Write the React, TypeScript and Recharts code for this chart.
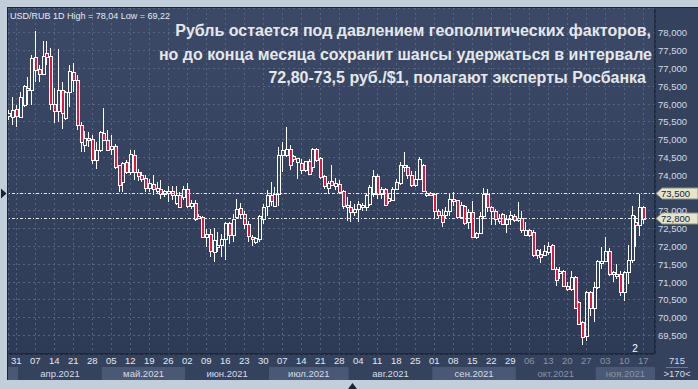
import React from "react";
import { ComposedChart, Bar, XAxis, YAxis, CartesianGrid, ReferenceLine } from "recharts";

// USD/RUB daily candles, 29.03.2021 - 17.11.2021 (one entry per weekday)
const opens = [
  75.68, 75.64, 75.85, 75.64, 75.97, 76.46, 76.39, 77.31, 76.99, 76.84, 77.43, 77.36, 75.99, 75.8, 76.41, 75.6, 76.35, 76.91, 76.69, 75.41,
  74.86, 74.99, 75.01, 74.42, 74.7, 75.19, 74.99, 74.75, 74.82, 74.28, 73.81, 74.38, 74.09, 74.58, 74.09, 74.02, 73.92, 73.64, 73.76, 73.56,
  73.62, 73.48, 73.5, 73.55, 73.23, 73.44, 73.39, 73.61, 73.15, 73.23, 72.83, 72.83, 72.28, 72.34, 71.84, 71.98, 72.05, 72.22, 72.66, 72.31,
  72.83, 73.09, 72.92, 72.64, 72.26, 72.12, 72.22, 72.78, 73.15, 73.44, 73.15, 73.47, 74.56, 74.58, 74.75, 74.53, 74.38, 74.35, 74.14, 74.39,
  74.23, 74.75, 74.49, 73.97, 73.64, 73.83, 73.7, 73.75, 73.55, 73.14, 73.12, 72.97, 73.04, 73.11, 73.11, 73.2, 73.47, 73.97, 73.47, 73.61,
  73.27, 73.32, 73.61, 73.77, 74.23, 74.23, 74.0, 73.72, 73.91, 74.28, 73.47, 73.51, 73.47, 73.01, 72.89, 72.89, 73.01, 73.34, 73.3, 72.83,
  73.15, 72.69, 72.97, 72.28, 72.38, 72.87, 73.48, 73.11, 72.99, 72.8, 72.92, 72.64, 72.78, 72.87, 72.78, 72.8, 72.33, 72.45, 72.42, 71.75,
  71.79, 71.75, 71.84, 72.05, 71.37, 71.28, 71.32, 70.9, 70.81, 71.15, 70.43, 69.87, 69.49, 70.73, 70.26, 70.85, 71.54, 71.58, 71.86, 71.23,
  71.18, 71.23, 70.71, 71.28, 71.61, 72.69, 72.59, 73.11,
];
const highs = [
  75.83, 76.21, 75.97, 76.35, 76.53, 76.77, 77.38, 78.04, 77.1, 77.76, 77.78, 77.57, 76.44, 77.55, 76.63, 76.37, 77.1, 77.16, 76.82, 75.5,
  75.24, 75.22, 75.12, 74.94, 75.24, 75.88, 75.27, 75.12, 74.89, 74.3, 74.38, 74.42, 74.7, 74.7, 74.17, 74.09, 74.0, 73.91, 74.0, 73.81,
  73.88, 73.6, 73.69, 73.69, 73.69, 73.53, 73.7, 73.77, 73.3, 73.3, 72.92, 72.87, 72.5, 72.5, 72.53, 72.4, 72.36, 72.7, 72.69, 72.9,
  73.34, 73.23, 73.01, 72.73, 72.31, 72.26, 72.88, 73.2, 73.58, 73.81, 73.67, 74.8, 74.94, 75.36, 74.85, 74.58, 74.5, 74.47, 74.4, 74.47,
  74.78, 74.76, 74.52, 74.02, 73.84, 74.28, 73.93, 73.86, 73.58, 73.39, 73.27, 73.2, 73.27, 73.23, 73.51, 73.72, 74.14, 74.05, 73.67, 73.64,
  73.48, 73.67, 73.91, 74.38, 74.66, 74.3, 74.11, 74.11, 74.52, 74.33, 73.55, 73.53, 73.5, 73.06, 73.06, 73.11, 73.48, 73.53, 73.32, 73.25,
  73.17, 73.06, 73.27, 72.4, 72.97, 73.63, 73.61, 73.15, 73.06, 72.92, 72.95, 72.89, 73.01, 72.92, 73.25, 73.01, 72.7, 72.48, 72.45, 71.92,
  71.93, 72.03, 72.12, 72.08, 71.42, 71.42, 71.35, 71.01, 71.32, 71.18, 70.48, 69.92, 70.76, 70.76, 71.0, 71.61, 71.98, 72.26, 71.95, 71.32,
  71.51, 71.32, 71.32, 72.03, 73.15, 72.85, 73.48, 73.15,
];
const lows = [
  75.55, 75.41, 75.35, 75.6, 75.92, 75.97, 75.97, 76.63, 76.63, 76.82, 77.1, 75.83, 75.46, 75.5, 75.31, 75.55, 75.92, 76.35, 75.27, 74.66,
  74.66, 74.8, 74.33, 74.19, 74.66, 74.96, 74.68, 74.56, 74.19, 73.53, 73.53, 74.05, 74.02, 73.86, 73.83, 73.81, 73.53, 73.53, 73.44, 73.48,
  73.34, 73.4, 73.25, 73.3, 73.17, 73.08, 73.3, 73.08, 73.06, 72.73, 72.78, 72.24, 71.98, 71.7, 71.56, 71.84, 71.7, 71.61, 72.08, 72.12,
  72.8, 72.78, 72.5, 72.12, 72.01, 72.08, 72.14, 72.64, 72.87, 73.14, 73.14, 73.15, 74.09, 74.52, 74.14, 74.38, 73.89, 74.05, 74.09, 74.0,
  74.09, 74.38, 73.91, 73.62, 73.48, 73.7, 73.6, 73.48, 73.04, 72.73, 72.69, 72.87, 72.69, 73.01, 73.01, 73.15, 73.4, 73.34, 73.34, 73.14,
  73.2, 73.3, 73.58, 73.72, 74.09, 73.91, 73.67, 73.67, 73.86, 73.53, 73.39, 73.44, 72.78, 72.78, 72.55, 72.8, 72.87, 73.15, 72.78, 72.78,
  72.59, 72.5, 72.23, 72.22, 72.36, 72.78, 72.97, 72.59, 72.59, 72.64, 72.61, 72.38, 72.59, 72.69, 72.69, 72.38, 72.29, 72.26, 71.7, 71.65,
  71.54, 71.73, 71.75, 71.35, 70.9, 71.09, 70.88, 70.76, 70.76, 70.24, 69.79, 69.22, 69.35, 70.06, 69.87, 70.81, 71.37, 71.56, 71.18, 71.0,
  71.09, 70.62, 70.48, 70.95, 71.54, 71.98, 72.29, 72.64,
];
const closes = [
  75.75, 75.83, 75.66, 76.21, 76.51, 76.39, 77.29, 76.96, 76.84, 77.36, 77.31, 75.99, 75.8, 76.41, 75.74, 76.35, 76.93, 76.69, 75.41, 74.94,
  75.05, 75.05, 74.42, 74.72, 75.22, 74.99, 74.72, 74.82, 74.23, 73.74, 74.35, 74.09, 74.61, 74.09, 73.97, 73.89, 73.64, 73.78, 73.62, 73.65,
  73.48, 73.56, 73.55, 73.46, 73.44, 73.11, 73.61, 73.14, 73.23, 72.78, 72.87, 72.26, 72.34, 71.87, 72.17, 72.05, 72.22, 72.66, 72.31, 72.78,
  73.06, 72.92, 72.64, 72.29, 72.2, 72.23, 72.87, 73.11, 73.44, 73.27, 73.47, 74.56, 74.72, 74.73, 74.3, 74.47, 74.49, 74.14, 74.39, 74.05,
  74.75, 74.44, 73.95, 73.69, 73.77, 73.74, 73.77, 73.53, 73.14, 73.17, 72.97, 73.04, 73.2, 73.17, 73.44, 73.67, 73.97, 73.47, 73.62, 73.17,
  73.36, 73.61, 73.81, 74.28, 74.28, 74.0, 73.74, 73.91, 74.47, 73.55, 73.51, 73.46, 73.01, 72.89, 72.69, 73.01, 73.34, 73.27, 72.83, 73.17,
  72.66, 72.97, 72.26, 72.38, 72.85, 73.48, 73.11, 73.0, 72.78, 72.73, 72.64, 72.78, 72.89, 72.75, 72.8, 72.45, 72.45, 72.31, 71.75, 71.89,
  71.7, 71.86, 72.01, 71.37, 71.07, 71.32, 70.9, 70.81, 71.15, 70.26, 69.82, 69.47, 70.71, 70.26, 70.85, 71.58, 71.58, 71.86, 71.23, 71.28,
  71.23, 70.71, 71.28, 71.61, 72.89, 72.59, 73.11, 72.78,
];

// weekly date ticks (Wednesdays) as candle indexes + labels
const dayTicks = [
  2, 7, 12, 17, 22, 27, 32, 37, 42, 47, 52, 57, 62, 67, 72, 77, 82, 87, 92, 97, 102, 107, 112, 117, 122, 127, 132, 137, 142, 147,
  152, 157, 162, 167,
];
const dayLabels = [
  "31", "07", "14", "21", "28", "05", "12", "19", "26", "02", "09", "16", "23", "30", "07", "14", "21", "28", "04", "11",
  "18", "25", "01", "08", "15", "22", "29", "06", "13", "20", "27", "03", "10", "17",
];
// month bands: first candle index (minus half a day) and label
const monthStarts = [-0.18, 2.5, 24.5, 46.5, 68.5, 89.5, 111.5, 133.5, 154.5];
const monthLabels = ["", "апр.2021", "май.2021", "июн.2021", "июл.2021", "авг.2021", "сен.2021", "окт.2021", "ноя.2021"];

const priceTicks = [
  69.5, 70, 70.5, 71, 71.5, 72, 72.5, 73, 73.5, 74, 74.5, 75, 75.5, 76, 76.5, 77, 77.5, 78,
];
const levels = [73.5, 72.8];

const titleLines = [
  "Рубль остается под давлением геополитических факторов,",
  "но до конца месяца сохранит шансы удержаться в интервале",
  "72,80-73,5 руб./$1, полагают эксперты Росбанка",
];

const data = opens.map((o, i) => ({
  day: i,
  open: o,
  high: highs[i],
  low: lows[i],
  close: closes[i],
  range: [lows[i], highs[i]],
}));

const W = 698;
const H = 389;
const X_DOMAIN: [number, number] = [-0.18, 170.1];
const Y_DOMAIN: [number, number] = [68.98, 78.7];
const PLOT_LEFT = 8;
const PLOT_RIGHT = 655;
const PX_PER_DAY = (PLOT_RIGHT - PLOT_LEFT) / (X_DOMAIN[1] - X_DOMAIN[0]);
const FONT = '"Liberation Sans", Arial, sans-serif';

function Candle(props: any) {
  const { x, y, width, height, payload } = props;
  if (height == null || !payload) return null;
  const { open, close, high, low } = payload;
  const ppu = height / (high - low);
  const cx = Math.round(x + width / 2) + 0.5;
  const yOf = (v: number) => y + (high - v) * ppu;
  const top = Math.round(yOf(Math.max(open, close))) + 0.5;
  let bot = Math.round(yOf(Math.min(open, close))) + 0.5;
  if (bot - top < 2) bot = top + 2;
  const up = close >= open;
  return (
    <g shapeRendering="crispEdges">
      <line x1={cx} x2={cx} y1={Math.round(y)} y2={top} stroke="#ffffff" />
      <line x1={cx} x2={cx} y1={bot} y2={Math.round(y + height)} stroke="#ffffff" />
      <rect x={cx - 1} y={top} width={3} height={bot - top} fill={up ? "none" : "#e8143c"} stroke="#ffffff" />
    </g>
  );
}

function DayTick(props: any) {
  const { x, y, payload } = props;
  const i = dayTicks.indexOf(payload.value);
  const dim = payload.value >= 137;
  return (
    <text x={x} y={y + 10} textAnchor="middle" fontSize={9.5} fontFamily={FONT} fill={dim ? "#8893a7" : "#e3e8ef"}>
      {dayLabels[i]}
    </text>
  );
}

function MonthTick(props: any) {
  const { x, y, payload } = props;
  const i = monthStarts.indexOf(payload.value);
  const end = i + 1 < monthStarts.length ? monthStarts[i + 1] : X_DOMAIN[1];
  const w = (end - payload.value) * PX_PER_DAY;
  const light = i % 2 === 0;
  const dim = i >= 7;
  return (
    <g>
      <rect x={x} y={y} width={w} height={13} fill={light ? "#4a5875" : "#34425e"} />
      <text x={x + w / 2} y={y + 10} textAnchor="middle" fontSize={9.5} fontFamily={FONT} fill={dim ? "#8893a7" : "#d6dce6"}>
        {monthLabels[i]}
      </text>
    </g>
  );
}

function PriceTick(props: any) {
  const { y, payload } = props;
  if (levels.includes(payload.value)) return null;
  return (
    <text x={658} y={y + 3.5} fontSize={9.5} fontFamily={FONT} fill="#d4dae3">
      {payload.value.toFixed(3).replace(".", ",")}
    </text>
  );
}

function LevelTag(props: any) {
  const { viewBox, value, marker } = props;
  const y = Math.round(viewBox.y) + 0.5;
  const x = viewBox.x + viewBox.width;
  return (
    <g>
      <polygon
        points={`${x + 1},${y} ${x + 7},${y - 5.5} ${W},${y - 5.5} ${W},${y + 5.5} ${x + 7},${y + 5.5}`}
        fill="#e4e4cf"
        stroke="#8d927c"
      />
      <text x={x + 6} y={y + 3.5} fontSize={9.5} fontFamily={FONT} fill="#1c2232">
        {value.toFixed(3).replace(".", ",")}
      </text>
      {marker && <polygon points={`1,${y - 5} 6.5,${y} 1,${y + 5}`} fill="#1a2336" />}
    </g>
  );
}

export default function App() {
  return (
    <div style={{ position: "absolute", left: 0, top: 0, width: W, height: H, background: "#c3cedb", overflow: "hidden" }}>
      <div
        style={{
          position: "absolute",
          left: 7,
          top: 7,
          width: W - 7,
          height: 373,
          background: "#34425e",
          borderLeft: "1px solid #1c2638",
          borderTop: "1px solid #1c2638",
          boxSizing: "border-box",
        }}
      />
      <div style={{ position: "absolute", left: 0, top: 0 }}>
        <ComposedChart width={W} height={H} data={data} margin={{ top: 8, right: 0, bottom: 9, left: 8 }}>
          <defs>
            <linearGradient id="plotBg" x1="0" y1="0" x2="0" y2="1">
              <stop offset="0%" stopColor="#3b4967" />
              <stop offset="100%" stopColor="#2e3b56" />
            </linearGradient>
          </defs>
          <CartesianGrid
            xAxisId="day"
            fill="url(#plotBg)"
            stroke="#566480"
            strokeDasharray="2 3"
            shapeRendering="crispEdges"
          />
          <XAxis
            xAxisId="day"
            dataKey="day"
            type="number"
            domain={X_DOMAIN}
            allowDataOverflow
            ticks={dayTicks}
            interval={0}
            height={13}
            tickSize={0}
            tickMargin={0}
            tickLine={false}
            axisLine={{ stroke: "#0f1522" }}
            tick={<DayTick />}
          />
          <XAxis
            xAxisId="month"
            dataKey="day"
            type="number"
            domain={X_DOMAIN}
            allowDataOverflow
            ticks={monthStarts}
            interval={0}
            height={13}
            tickSize={0}
            tickMargin={0}
            tickLine={false}
            axisLine={false}
            tick={<MonthTick />}
          />
          <YAxis
            orientation="right"
            type="number"
            domain={Y_DOMAIN}
            allowDataOverflow
            ticks={priceTicks}
            interval={0}
            width={43}
            tickSize={0}
            tickLine={false}
            axisLine={{ stroke: "#0f1522" }}
            tick={<PriceTick />}
          />
          {levels.map((lv, i) => (
            <ReferenceLine
              key={lv}
              xAxisId="day"
              y={lv}
              stroke="#e6e6e6"
              strokeDasharray="3 2 1 2"
              shapeRendering="crispEdges"
              label={(p: any) => <LevelTag {...p} value={lv} marker={i === 0} />}
            />
          ))}
          <Bar
            xAxisId="day"
            dataKey="range"
            barSize={4}
            shape={<Candle />}
            isAnimationActive={false}
          />
        </ComposedChart>
      </div>
      <svg width={W} height={H} style={{ position: "absolute", left: 0, top: 0, pointerEvents: "none" }}>
        <text x={10} y={18.5} fontSize={9} fontFamily={FONT} fill="#e4e9f0">
          USD/RUB 1D High = 78,04 Low = 69,22
        </text>
        {titleLines.map((t, i) => (
          <text
            key={i}
            x={[651, 652, 646][i]}
            y={36 + i * 23.7}
            textAnchor="end"
            fontSize={16}
            fontWeight="bold"
            fontFamily={FONT}
            fill="#e6e7ea"
          >
            {t}
          </text>
        ))}
        <text x={635} y={352} textAnchor="middle" fontSize={10} fontFamily={FONT} fill="#ffffff">
          2
        </text>
        <text x={677} y={364} textAnchor="middle" fontSize={9.5} fontFamily={FONT} fill="#d6dce6">
          715
        </text>
        <line x1={666} x2={688} y1={367.5} y2={367.5} stroke="#6b7891" />
        <text x={677} y={376.5} textAnchor="middle" fontSize={9.5} fontFamily={FONT} fill="#d6dce6">
          {">170<"}
        </text>
        <polygon points="348,389 352.5,383 357,389" fill="#1a2336" />
      </svg>
    </div>
  );
}
